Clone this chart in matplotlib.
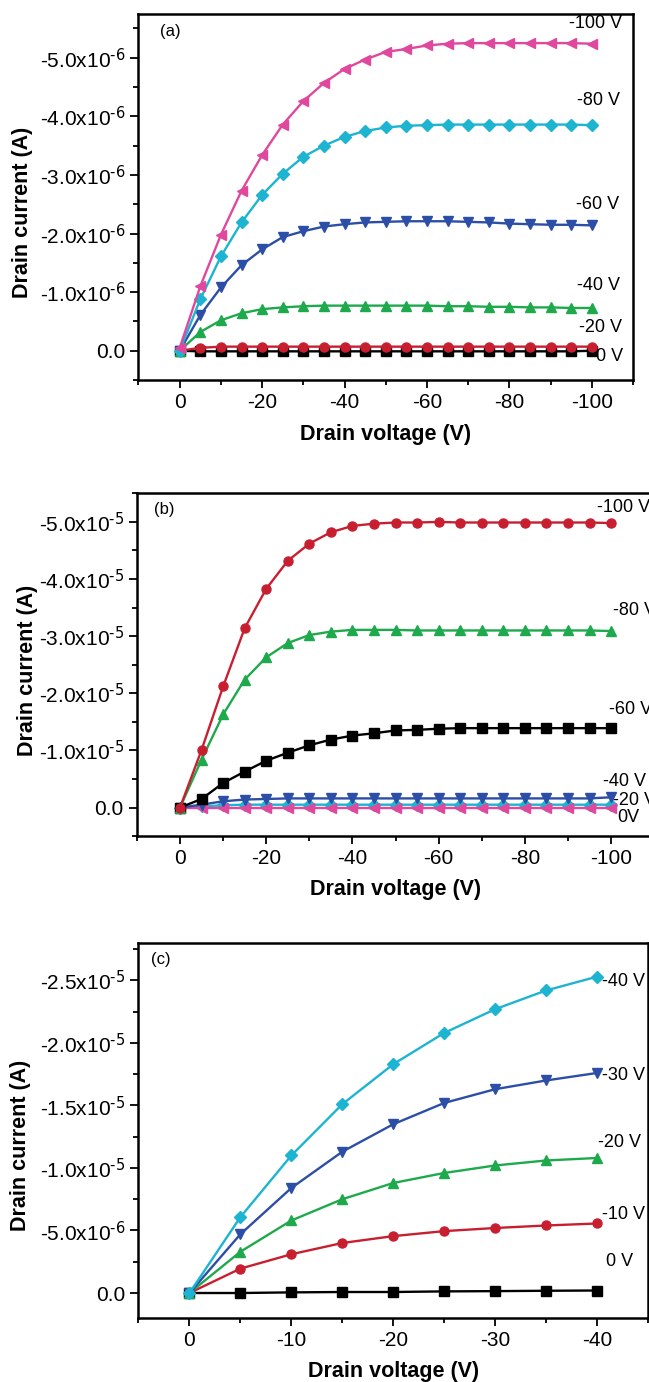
import numpy as np
import matplotlib as mpl
mpl.use('Agg')
import matplotlib.pyplot as plt
from matplotlib.ticker import MultipleLocator

plt.rcParams['font.family'] = ['Liberation Sans', 'DejaVu Sans']
plt.rcParams['mathtext.default'] = 'regular'

# ---- panel (a): x = drain voltage, y in units of 1e-6 A (magnitude)
vd_a = [0, -5, -10, -15, -20, -25, -30, -35, -40, -45, -50,
        -55, -60, -65, -70, -75, -80, -85, -90, -95, -100]
a_100 = [0.05, 1.10, 1.98, 2.73, 3.34, 3.86, 4.26, 4.57, 4.81, 4.97, 5.10,
         5.15, 5.21, 5.24, 5.25, 5.25, 5.25, 5.25, 5.25, 5.25, 5.24]
a_80 = [0.0, 0.88, 1.61, 2.19, 2.66, 3.02, 3.31, 3.50, 3.65, 3.75, 3.81,
        3.84, 3.85, 3.86, 3.86, 3.86, 3.86, 3.86, 3.86, 3.86, 3.85]
a_60 = [0.0, 0.61, 1.08, 1.46, 1.73, 1.94, 2.04, 2.12, 2.16, 2.19, 2.20,
        2.21, 2.21, 2.21, 2.20, 2.19, 2.17, 2.16, 2.15, 2.15, 2.14]
a_40 = [0.0, 0.32, 0.52, 0.64, 0.71, 0.74, 0.76, 0.77, 0.77, 0.77, 0.77,
        0.77, 0.77, 0.76, 0.76, 0.75, 0.75, 0.74, 0.74, 0.73, 0.73]
a_20 = [0.0, 0.05, 0.07, 0.07, 0.07, 0.07, 0.07, 0.07, 0.07, 0.07, 0.07,
        0.07, 0.07, 0.07, 0.07, 0.07, 0.07, 0.07, 0.07, 0.07, 0.07]
a_0 = [0.0, -0.01, -0.01, -0.01, -0.01, -0.01, -0.01, -0.01, -0.01, -0.01, -0.01,
       -0.01, -0.01, -0.01, -0.01, -0.01, -0.01, -0.01, -0.01, -0.01, 0.0]

# ---- panel (b): y in units of 1e-5 A
vd_b = vd_a
b_100 = [0.0, 1.01, 2.12, 3.14, 3.83, 4.32, 4.62, 4.82, 4.93, 4.97, 4.99,
         4.99, 5.00, 4.99, 4.99, 4.99, 4.99, 4.99, 4.99, 4.99, 4.98]
b_80 = [0.0, 0.84, 1.63, 2.24, 2.63, 2.88, 3.02, 3.08, 3.11, 3.11, 3.11,
        3.10, 3.10, 3.10, 3.10, 3.10, 3.10, 3.10, 3.10, 3.10, 3.09]
b_60 = [0.0, 0.15, 0.43, 0.63, 0.82, 0.96, 1.09, 1.19, 1.26, 1.30, 1.35,
        1.36, 1.38, 1.39, 1.39, 1.39, 1.39, 1.39, 1.39, 1.39, 1.39]
b_40 = [0.0, 0.05, 0.11, 0.14, 0.15, 0.16, 0.16, 0.16, 0.16, 0.16, 0.16,
        0.16, 0.16, 0.16, 0.16, 0.16, 0.16, 0.16, 0.16, 0.16, 0.18]
b_20 = [0.0, 0.02, 0.04, 0.05, 0.05, 0.05, 0.05, 0.05, 0.05, 0.05, 0.05,
        0.05, 0.05, 0.05, 0.05, 0.05, 0.05, 0.05, 0.05, 0.05, 0.05]
b_0 = [0.0] * 21

# ---- panel (c): y in units of 1e-5 A
vd_c = [0, -5, -10, -15, -20, -25, -30, -35, -40]
c_40 = [0.0, 0.607, 1.10, 1.51, 1.83, 2.08, 2.27, 2.42, 2.53]
c_30 = [0.0, 0.47, 0.84, 1.13, 1.35, 1.52, 1.63, 1.70, 1.76]
c_20 = [0.0, 0.33, 0.58, 0.75, 0.88, 0.96, 1.02, 1.06, 1.08]
c_10 = [0.0, 0.195, 0.31, 0.40, 0.455, 0.495, 0.52, 0.54, 0.556]
c_0 = [0.0, 0.0, 0.005, 0.008, 0.008, 0.013, 0.015, 0.018, 0.02]

PINK = '#e0489e'
CYAN = '#1db4d2'
BLUE = '#2c4ea6'
GREEN = '#1eaa4c'
RED = '#c81f30'
BLACK = '#000000'


def curve(ax, x, y, scale, color, marker):
    ax.plot(x, -np.array(y) * scale, color=color, marker=marker, lw=1.7,
            ms=6.5, mec=color, mfc=color, clip_on=False)


def sci(s, e):
    # hyphen in the exponent, like the original figure
    return s + 'x10$^{\\text{-%d}}$' % e


def style(ax, xlim, ylim, xmaj, xmin, ymaj, ymin, ylabels, letter, ylab_pos, xlab_pos):
    ax.set_xlim(*xlim)
    ax.set_ylim(*ylim)
    ax.xaxis.set_minor_locator(MultipleLocator(xmin))
    ax.yaxis.set_minor_locator(MultipleLocator(ymin))
    ax.set_yticks(ymaj)
    ax.set_yticklabels(ylabels)
    xt = [t for t in np.arange(0, xlim[1] - 1, -xmaj)]
    ax.set_xticks(xt)
    ax.set_xticklabels(['0'] + ['-%d' % abs(t) for t in xt[1:]])
    ax.tick_params(which='both', direction='out', top=False, right=False, labelsize=15, width=1.3)
    ax.tick_params(which='major', length=6)
    ax.tick_params(which='minor', length=3.5)
    for s in ax.spines.values():
        s.set_linewidth(1.8)
    ax.set_ylabel('Drain current (A)', fontsize=15.5, fontweight='bold')
    ax.set_xlabel('Drain voltage (V)', fontsize=15.5, fontweight='bold')
    ax.yaxis.set_label_coords(*ylab_pos)
    ax.xaxis.set_label_coords(*xlab_pos)
    ax.text(letter[1], letter[2], letter[0], transform=ax.transAxes, fontsize=12,
            ha='center', va='center')


fig = plt.figure(figsize=(6.49, 13.82), dpi=100)

# (a)
ax = fig.add_axes([0.2134, 0.725, 0.762, 0.265])
e6 = 1e-6
curve(ax, vd_a, a_0, e6, BLACK, 's')
curve(ax, vd_a, a_20, e6, RED, 'o')
curve(ax, vd_a, a_40, e6, GREEN, '^')
curve(ax, vd_a, a_60, e6, BLUE, 'v')
curve(ax, vd_a, a_80, e6, CYAN, 'D')
curve(ax, vd_a, a_100, e6, PINK, '<')
yt = [0, -1e-6, -2e-6, -3e-6, -4e-6, -5e-6]
yl = ['0.0'] + [sci('-%d.0' % k, 6) for k in range(1, 6)]
style(ax, (10, -110), (0.5e-6, -5.75e-6), 20, 10, yt, 0.5e-6, yl,
      ('(a)', 0.064, 0.953), (-0.213, 0.459), (0.5, -0.120))
for lab, xv, yv, ha in [('-100 V', -101, 5.58, 'center'), ('-80 V', -101.5, 4.27, 'center'),
                        ('-60 V', -101.5, 2.49, 'center'), ('-40 V', -101.5, 1.12, 'center'),
                        ('-20 V', -102, 0.39, 'center'), ('0 V', -101, -0.09, 'left')]:
    ax.text(xv, -yv * e6, lab, fontsize=13, ha=ha, va='center')

# (b)
ax = fig.add_axes([0.211, 0.395, 0.797, 0.248])
e5 = 1e-5
curve(ax, vd_b, b_20, e5, CYAN, 'D')
curve(ax, vd_b, b_0, e5, PINK, '<')
curve(ax, vd_b, b_40, e5, BLUE, 'v')
curve(ax, vd_b, b_60, e5, BLACK, 's')
curve(ax, vd_b, b_80, e5, GREEN, '^')
curve(ax, vd_b, b_100, e5, RED, 'o')
yt = [0, -1e-5, -2e-5, -3e-5, -4e-5, -5e-5]
yl = ['0.0'] + [sci('-%d.0' % k, 5) for k in range(1, 6)]
style(ax, (10, -110), (0.5e-5, -5.5e-5), 20, 10, yt, 0.5e-5, yl,
      ('(b)', 0.052, 0.953), (-0.191, 0.484), (0.5, -0.125))
for lab, xv, yv in [('-100 V', -103, 5.26), ('-80 V', -105.5, 3.45), ('-60 V', -104.5, 1.71),
                    ('-40 V', -103, 0.46), ('-20 V', -105.5, 0.12), ('0V', -104, -0.17)]:
    ax.text(xv, -yv * e5, lab, fontsize=13, ha='center', va='center')

# (c)
ax = fig.add_axes([0.2134, 0.0463, 0.785, 0.2714])
curve(ax, vd_c, c_0, e5, BLACK, 's')
curve(ax, vd_c, c_10, e5, RED, 'o')
curve(ax, vd_c, c_20, e5, GREEN, '^')
curve(ax, vd_c, c_30, e5, BLUE, 'v')
curve(ax, vd_c, c_40, e5, CYAN, 'D')
yt = [0, -0.5e-5, -1e-5, -1.5e-5, -2e-5, -2.5e-5]
yl = ['0.0', sci('-5.0', 6), sci('-1.0', 5), sci('-1.5', 5), sci('-2.0', 5), sci('-2.5', 5)]
style(ax, (5, -45), (0.2e-5, -2.8e-5), 10, 5, yt, 0.25e-5, yl,
      ('(c)', 0.044, 0.955), (-0.211, 0.461), (0.5, -0.115))
for lab, xv, yv in [('-40 V', -42.6, 2.49), ('-30 V', -42.6, 1.74), ('-20 V', -42.2, 1.20),
                    ('-10 V', -42.6, 0.63), ('0 V', -42.2, 0.25)]:
    ax.text(xv, -yv * e5, lab, fontsize=13, ha='center', va='center')

fig.savefig('out.png', dpi=100)
